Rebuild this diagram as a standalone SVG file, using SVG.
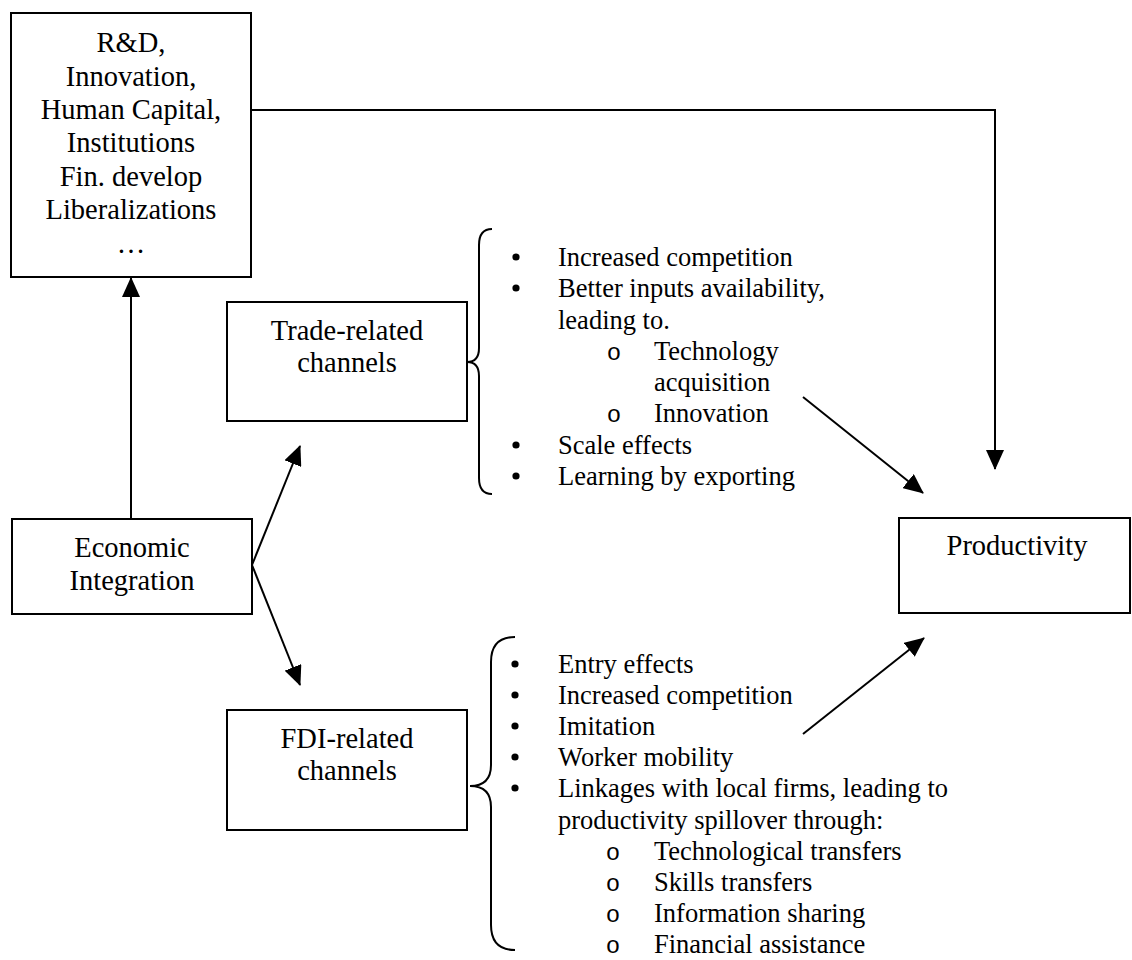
<svg xmlns="http://www.w3.org/2000/svg" width="1132" height="960" viewBox="0 0 1132 960">
<defs>
<style>
.box{fill:#fff;stroke:#000;stroke-width:2}
.bt{font-family:"Liberation Serif","Times New Roman",serif;font-size:28.5px;fill:#000;text-anchor:middle}
.li{font-family:"Liberation Serif","Times New Roman",serif;font-size:26.5px;fill:#000}
.sb{font-family:"Liberation Mono","Courier New",monospace;font-size:24px;fill:#000;text-anchor:middle}
.ln{fill:none;stroke:#000;stroke-width:2}
.br{fill:none;stroke:#000;stroke-width:2}
</style>
<marker id="ah" markerUnits="userSpaceOnUse" markerWidth="20" markerHeight="18" viewBox="0 0 20 18" refX="19" refY="9" orient="auto">
<path d="M0,0 L20,9 L0,18 Z" fill="#000"/>
</marker>
</defs>
<rect width="1132" height="960" fill="#fff"/>

<g id="factors">
<rect class="box" x="11" y="13" width="240" height="264"/>
<text class="bt" x="131" y="52">R&amp;D,</text>
<text class="bt" x="131" y="86">Innovation,</text>
<text class="bt" x="131" y="119">Human Capital,</text>
<text class="bt" x="131" y="152">Institutions</text>
<text class="bt" x="131" y="186">Fin. develop</text>
<text class="bt" x="131" y="219">Liberalizations</text>
<text class="bt" x="131" y="253">…</text>
</g>

<g id="integration">
<rect class="box" x="12" y="519" width="240" height="95"/>
<text class="bt" x="132" y="557">Economic</text>
<text class="bt" x="132" y="590">Integration</text>
</g>

<g id="trade">
<rect class="box" x="227" y="302" width="240" height="119"/>
<text class="bt" x="347" y="340">Trade-related</text>
<text class="bt" x="347" y="372">channels</text>
</g>

<g id="fdi">
<rect class="box" x="227" y="710" width="240" height="120"/>
<text class="bt" x="347" y="748">FDI-related</text>
<text class="bt" x="347" y="780">channels</text>
</g>

<g id="productivity">
<rect class="box" x="899" y="518" width="231" height="95"/>
<text class="bt" x="1017" y="555">Productivity</text>
</g>

<g id="trade-list">
<path class="br" d="M492,229 Q479,229 479,245 L479,348 Q479,362 467,362 Q479,362 479,376 L479,478 Q479,494 492,494"/>
<circle cx="516" cy="257" r="3.6"/>
<text class="li" x="558" y="266">Increased competition</text>
<circle cx="516" cy="288" r="3.6"/>
<text class="li" x="558" y="297">Better inputs availability,</text>
<text class="li" x="558" y="329">leading to.</text>
<text class="sb" x="614" y="360">o</text>
<text class="li" x="654" y="360">Technology</text>
<text class="li" x="654" y="391">acquisition</text>
<text class="sb" x="614" y="422">o</text>
<text class="li" x="654" y="422">Innovation</text>
<circle cx="516" cy="445" r="3.6"/>
<text class="li" x="558" y="454">Scale effects</text>
<circle cx="516" cy="476" r="3.6"/>
<text class="li" x="558" y="485">Learning by exporting</text>
</g>

<g id="fdi-list">
<path class="br" d="M515,637 Q491,637 491,662 L491,765 Q491,786 470,786 Q491,786 491,807 L491,925 Q491,950 515,950"/>
<circle cx="515" cy="664" r="3.6"/>
<text class="li" x="558" y="673">Entry effects</text>
<circle cx="515" cy="695" r="3.6"/>
<text class="li" x="558" y="704">Increased competition</text>
<circle cx="515" cy="726" r="3.6"/>
<text class="li" x="558" y="735">Imitation</text>
<circle cx="515" cy="757" r="3.6"/>
<text class="li" x="558" y="766">Worker mobility</text>
<circle cx="515" cy="788" r="3.6"/>
<text class="li" x="558" y="797">Linkages with local firms, leading to</text>
<text class="li" x="558" y="829">productivity spillover through:</text>
<text class="sb" x="613" y="860">o</text>
<text class="li" x="654" y="860">Technological transfers</text>
<text class="sb" x="613" y="891">o</text>
<text class="li" x="654" y="891">Skills transfers</text>
<text class="sb" x="613" y="922">o</text>
<text class="li" x="654" y="922">Information sharing</text>
<text class="sb" x="613" y="953">o</text>
<text class="li" x="654" y="953">Financial assistance</text>
</g>

<g id="connectors">
<path class="ln" d="M131,519 L131,278" marker-end="url(#ah)"/>
<path class="ln" d="M251,110 L995,110 L995,469" marker-end="url(#ah)"/>
<path class="ln" d="M252,565 L300,446" marker-end="url(#ah)"/>
<path class="ln" d="M252,565 L300,685" marker-end="url(#ah)"/>
<path class="ln" d="M803,397 L923,493" marker-end="url(#ah)"/>
<path class="ln" d="M803,734 L924,638" marker-end="url(#ah)"/>
</g>
</svg>
